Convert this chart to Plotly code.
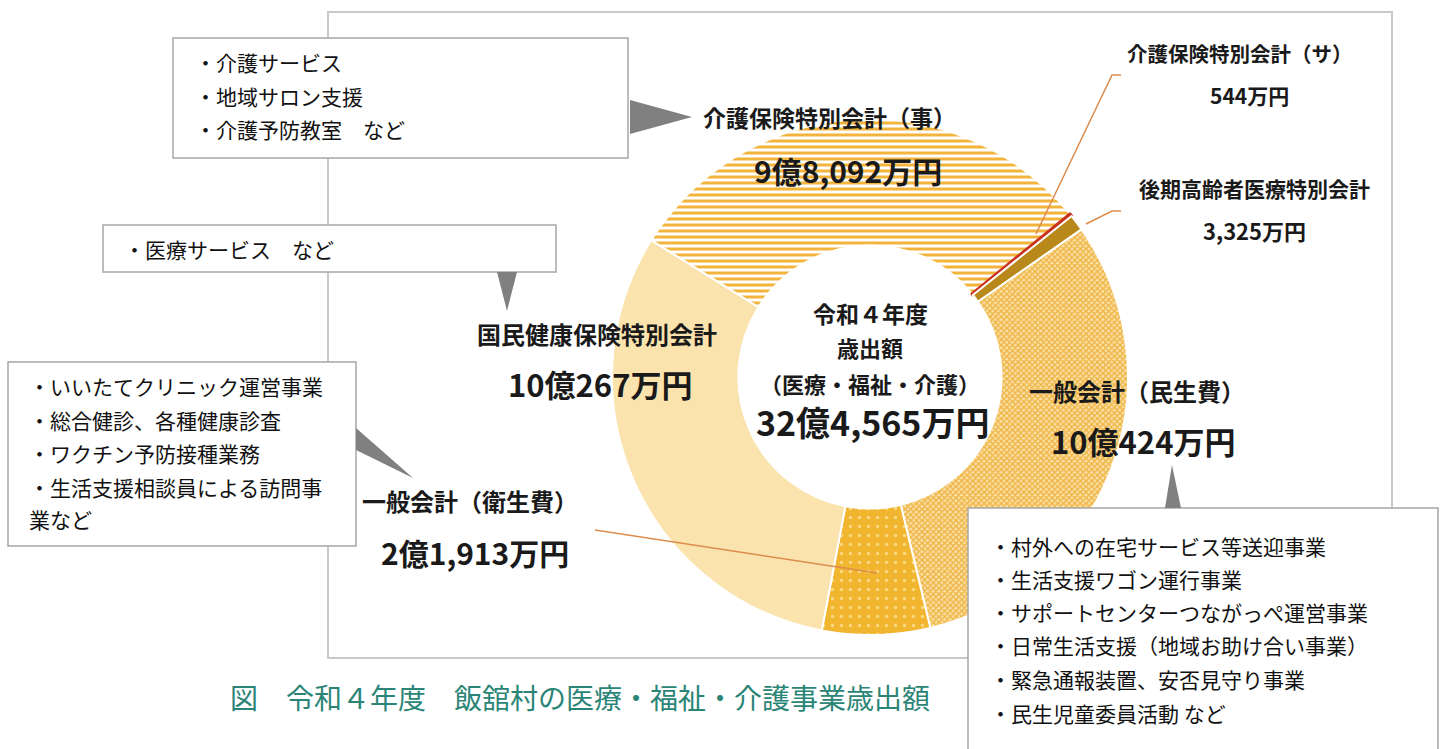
import plotly.graph_objects as go

W, H = 1444, 749

# ---- data ----
categories = ["介護保険特別会計（事）", "介護保険特別会計（サ）", "後期高齢者医療特別会計",
              "一般会計（民生費）", "一般会計（衛生費）", "国民健康保険特別会計"]
values_man_yen = [98092, 544, 3325, 100424, 21913, 100267]
value_labels = ["9億8,092万円", "544万円", "3,325万円", "10億424万円", "2億1,913万円", "10億267万円"]
center_lines = ["令和４年度", "歳出額", "（医療・福祉・介護）"]
center_total = "32億4,565万円"
caption = "図　令和４年度　飯舘村の医療・福祉・介護事業歳出額"

box_kaigo = ["・介護サービス", "・地域サロン支援", "・介護予防教室　など"]
box_kokuho = ["・医療サービス　など"]
box_eisei = ["・いいたてクリニック運営事業", "・総合健診、各種健康診査", "・ワクチン予防接種業務",
             "・生活支援相談員による訪問事", "業など"]
box_minsei = ["・村外への在宅サービス等送迎事業", "・生活支援ワゴン運行事業",
              "・サポートセンターつながっぺ運営事業", "・日常生活支援（地域お助け合い事業）",
              "・緊急通報装置、安否見守り事業", "・民生児童委員活動 など"]

# ---- styles ----
slice_colors = ["#F3B43C", "#C8321E", "#B8891A", "#FBE5B0", "#F2B530", "#FBE3AE"]
pattern = dict(
    shape=["-", "", "", "x", ".", ""],
    fgcolor=["#F3B43C", "#C8321E", "#B8891A", "#EFB445", "#F9D87E", "#FBE3AE"],
    bgcolor=["#FFFFFF", "#C8321E", "#B8891A", "#FBE2A8", "#F2B530", "#FBE3AE"],
    size=[6, 8, 8, 4, 9, 8],
    solidity=[0.5, 0.3, 0.3, 0.6, 0.12, 0.3],
    fillmode="replace",
)
line_colors = ["white", "#C8321E", "white", "white", "white", "white"]
line_widths = [2, 3, 2, 2, 2, 2]

def px(x):
    return x / W

def py(y):
    return 1 - y / H

FONT = "Noto Sans CJK JP"
cx, cy, r = 870, 377, 258

fig = go.Figure()
fig.add_trace(go.Pie(
    labels=categories, values=values_man_yen, sort=False, direction="clockwise",
    rotation=-58, hole=0.51, textinfo="none", hoverinfo="label+value",
    marker=dict(colors=slice_colors, line=dict(color=line_colors, width=line_widths), pattern=pattern),
    domain=dict(x=[px(cx - r), px(cx + r)], y=[py(cy + r), py(cy - r)]),
    showlegend=False,
))

shapes = []
annotations = []

# outer frame
shapes.append(dict(type="rect", xref="paper", yref="paper", x0=px(328), x1=px(1392), y0=py(658), y1=py(12),
                   line=dict(color="#C9C9C9", width=2), fillcolor="rgba(0,0,0,0)", layer="below"))

def box(x0, y0, x1, y1):
    shapes.append(dict(type="rect", xref="paper", yref="paper", x0=px(x0), x1=px(x1), y0=py(y1), y1=py(y0),
                       line=dict(color="#A6A6A6", width=1.5), fillcolor="white", layer="above"))

def tri(pts):
    path = "M " + " L ".join(f"{px(x)},{py(y)}" for x, y in pts) + " Z"
    shapes.append(dict(type="path", xref="paper", yref="paper", path=path,
                       fillcolor="#808080", line=dict(width=0), layer="above"))

def leader(pts):
    path = "M " + " L ".join(f"{px(x)},{py(y)}" for x, y in pts)
    shapes.append(dict(type="path", xref="paper", yref="paper", path=path,
                       line=dict(color="#DD8C4C", width=1.5), layer="above"))

box(173, 38, 628, 158)
box(103, 225, 556, 272)
box(8, 362, 356, 546)
box(968, 508, 1438, 760)
tri([(630, 100), (630, 134), (692, 117)])
tri([(497, 272), (517, 272), (507, 311)])
tri([(356, 428), (356, 450), (413, 478)])
tri([(1165, 508), (1181, 508), (1172, 465)])
leader([(1036, 234), (1112, 75), (1121, 75)])
leader([(1086, 224), (1112, 211), (1121, 211)])
leader([(595, 530), (877, 573)])

def text(x, y, s, size, bold=False, anchor="center", color="#1A1A1A"):
    annotations.append(dict(x=px(x), y=py(y), xref="paper", yref="paper", text=s, showarrow=False,
                            xanchor=anchor, yanchor="middle",
                            font=dict(family=FONT, size=size, color=color,
                                      weight="bold" if bold else "normal")))

def lines(x, ys, items, size=21):
    for yy, s in zip(ys, items):
        text(x, yy, s, size, anchor="left", color="#111111")

lines(193, [62, 96, 129], box_kaigo)
lines(122, [249], box_kokuho)
lines(27, [386, 420, 453, 487, 519], box_eisei)
lines(988, [546, 579, 612, 645, 679, 713], box_minsei)

# slice labels
label_pos = [((830, 117), (848, 170), 23, 30),
             ((1240, 53), (1249, 95), 20.5, 21),
             ((1254, 188), (1254, 230), 21, 22),
             ((1137, 390), (1143, 441), 24, 31),
             ((470, 500), (475, 552), 24, 30),
             ((597, 333), (600, 383), 24, 31)]
for cat, val, (p1, p2, s1, s2) in zip(categories, value_labels, label_pos):
    text(p1[0], p1[1], cat, s1, bold=True)
    text(p2[0], p2[1], val, s2, bold=True)

for yy, s, sz in zip([313, 347, 383], center_lines, [23, 22, 22]):
    text(870, yy, s, sz, bold=True)
text(873, 421, center_total, 34, bold=True)

text(580, 697, caption, 28, color="#2B8577")

fig.update_layout(width=W, height=H, margin=dict(l=0, r=0, t=0, b=0),
                  paper_bgcolor="white", plot_bgcolor="white",
                  shapes=shapes, annotations=annotations)

fig.write_html("out.html", config={"displayModeBar": False},
               post_script="document.body.style.margin='0';")
